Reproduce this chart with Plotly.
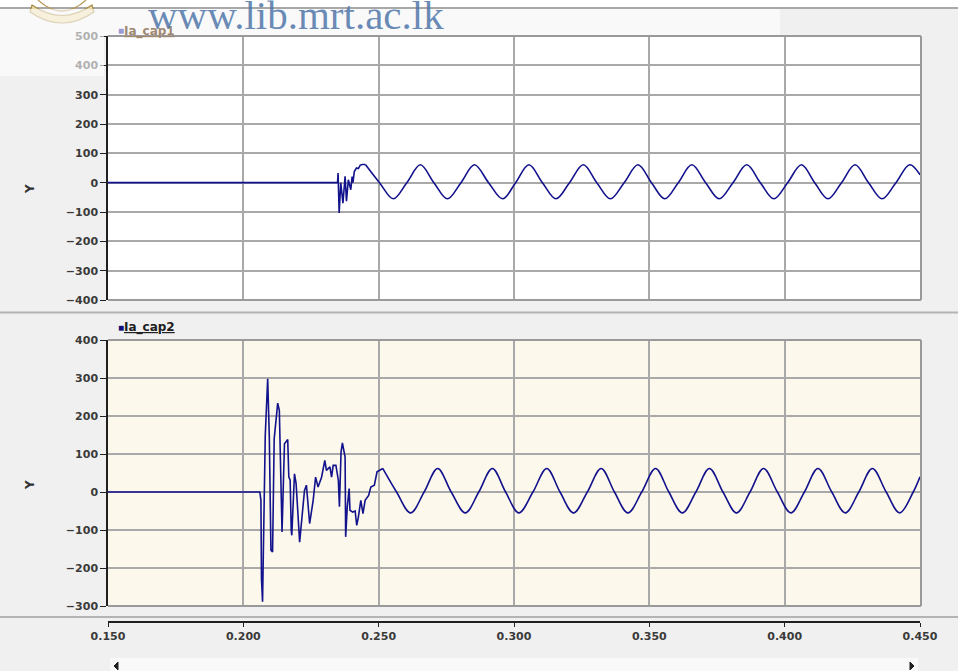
import plotly.graph_objects as go

W, H = 958, 671

# ---------------- data ----------------
x_range = [0.150, 0.450]
x_ticks = [0.150, 0.200, 0.250, 0.300, 0.350, 0.400, 0.450]
y1_ticks = [-400, -300, -200, -100, 0, 100, 200, 300, 400, 500]
y2_ticks = [-300, -200, -100, 0, 100, 200, 300, 400]

# Ia_cap1 : transient part
cap1_trans_t = [0.1500, 0.2348, 0.2350, 0.2354, 0.2360, 0.2368, 0.2376, 0.2381, 0.2388,
                0.2397, 0.2402, 0.2405, 0.2410, 0.2418, 0.2425, 0.2432, 0.2440, 0.2451]
cap1_trans_v = [0, 0, 33, -103, 0, -70, 22, -63, 10,
                -24, 21, 0, 38, 50, 48, 60, 62, 62]
# Ia_cap1 : steady part (peaks, zero crossings, troughs)
cap1_t = [0.2451, 0.2503, 0.2554, 0.2604, 0.2654, 0.2704, 0.2754, 0.2804, 0.2854, 0.2906,
          0.2958, 0.3006, 0.3055, 0.3105, 0.3155, 0.3205, 0.3256, 0.3306, 0.3356, 0.3407,
          0.3458, 0.3508, 0.3557, 0.3607, 0.3657, 0.3708, 0.3758, 0.3809, 0.3860, 0.3910,
          0.3960, 0.4011, 0.4062, 0.4111, 0.4160, 0.4210, 0.4260, 0.4310, 0.4360, 0.4411,
          0.4462, 0.4500]
cap1_v = [62, 0, -55, 0, 61, 0, -55, 0, 61, 0,
          -55, 0, 61, 0, -55, 0, 61, 0, -55, 0,
          61, 0, -55, 0, 61, 0, -55, 0, 61, 0,
          -55, 0, 61, 0, -55, 0, 61, 0, -55, 0,
          61, 27]

# Ia_cap2 : transient part
cap2_trans_t = [0.1500, 0.2061, 0.2065, 0.2067, 0.2071, 0.2081, 0.2090, 0.2093, 0.2096,
                0.2102, 0.2108, 0.2114, 0.2124, 0.2127, 0.2133, 0.2139, 0.2143, 0.2152,
                0.2164, 0.2168, 0.2173, 0.2177, 0.2179, 0.2189, 0.2195, 0.2208, 0.2226,
                0.2233, 0.2245, 0.2258, 0.2267, 0.2276, 0.2289, 0.2301, 0.2307, 0.2320,
                0.2326, 0.2332, 0.2342, 0.2351, 0.2355, 0.2361, 0.2366, 0.2376, 0.2378,
                0.2384, 0.2391, 0.2394, 0.2404, 0.2413, 0.2419, 0.2425, 0.2434, 0.2442,
                0.2450, 0.2463, 0.2471, 0.2484, 0.2494, 0.2515]
cap2_trans_v = [0, 0, -22, -228, -289, 149, 298, 232, 145,
                -153, -158, 140, 206, 234, 215, -39, -105, 127,
                138, 40, 31, -100, -114, 48, 22, -132, 4,
                18, -83, -22, 39, 13, 39, 83, 57, 66,
                39, 70, 70, 31, -39, 105, 129, 92, -118,
                -39, 9, -48, -53, -50, -88, -66, -22, -57,
                -22, -9, 13, 18, 53, 62]
# Ia_cap2 : steady part
cap2_t = [0.2515, 0.2566, 0.2618, 0.2668, 0.2718, 0.2768, 0.2820, 0.2870, 0.2920, 0.2969,
          0.3018, 0.3070, 0.3121, 0.3170, 0.3220, 0.3271, 0.3322, 0.3371, 0.3421, 0.3472,
          0.3523, 0.3572, 0.3622, 0.3672, 0.3722, 0.3772, 0.3822, 0.3872, 0.3922, 0.3973,
          0.4023, 0.4073, 0.4123, 0.4174, 0.4224, 0.4274, 0.4324, 0.4375, 0.4425, 0.4475,
          0.4500]
cap2_v = [62, 0, -55, 0, 62, 0, -55, 0, 62, 0,
          -55, 0, 62, 0, -55, 0, 62, 0, -55, 0,
          62, 0, -55, 0, 62, 0, -55, 0, 62, 0,
          -55, 0, 62, 0, -55, 0, 62, 0, -55, 0,
          40]

LINE = "#12128C"

# ---------------- helpers (pixel -> paper) ----------------
def px(x):
    return x / W

def py(y):
    return 1 - y / H

X0, X1 = 108, 920
TOP_T, TOP_B = 36, 300
BOT_T, BOT_B = 340, 606

fig = go.Figure()
fig.add_trace(go.Scatter(x=cap1_trans_t, y=cap1_trans_v, mode="lines",
                         line=dict(color=LINE, width=1.6), xaxis="x", yaxis="y", showlegend=False))
fig.add_trace(go.Scatter(x=cap1_t, y=cap1_v, mode="lines",
                         line=dict(color=LINE, width=1.6, shape="spline", smoothing=1.0),
                         xaxis="x", yaxis="y", showlegend=False))
fig.add_trace(go.Scatter(x=cap2_trans_t, y=cap2_trans_v, mode="lines",
                         line=dict(color=LINE, width=1.6), xaxis="x2", yaxis="y2", showlegend=False))
fig.add_trace(go.Scatter(x=cap2_t, y=cap2_v, mode="lines",
                         line=dict(color=LINE, width=1.6, shape="spline", smoothing=1.0),
                         xaxis="x2", yaxis="y2", showlegend=False))

tickfont = dict(family="DejaVu Sans", size=11, color="#3a3a3a", weight="bold")
grid = "#A9A9A9"

xcommon = dict(range=x_range, tickvals=x_ticks, showgrid=True, gridcolor=grid, gridwidth=1.5,
               zeroline=False, domain=[px(X0), px(X1)], automargin=False)
fig.update_layout(
    width=W, height=H,
    margin=dict(l=0, r=0, t=0, b=0, pad=0),
    paper_bgcolor="#F0F0F0",
    plot_bgcolor="#FFFFFF",
    showlegend=False,
    xaxis=dict(**xcommon, anchor="y", showticklabels=False, ticks="", showline=False),
    yaxis=dict(domain=[py(TOP_B), py(TOP_T)], range=[-400, 500], tickvals=y1_ticks,
               showgrid=True, gridcolor=grid, gridwidth=1.5, zeroline=False,
               showline=True, linecolor="#202020", linewidth=1.5,
               ticks="outside", ticklen=6, tickcolor="#202020", tickwidth=1.2,
               tickfont=tickfont, anchor="x", automargin=False),
    xaxis2=dict(**xcommon, anchor="free", position=py(622),
                showline=True, linecolor="#202020", linewidth=1.5,
                ticks="outside", ticklen=4, tickcolor="#202020", tickwidth=1.2,
                tickfont=tickfont, tickformat=".3f"),
    yaxis2=dict(domain=[py(BOT_B), py(BOT_T)], range=[-300, 400], tickvals=y2_ticks,
                showgrid=True, gridcolor=grid, gridwidth=1.5, zeroline=False,
                showline=True, linecolor="#202020", linewidth=1.5,
                ticks="outside", ticklen=6, tickcolor="#202020", tickwidth=1.2,
                tickfont=tickfont, anchor="x2", automargin=False),
)

shapes = []
# white strip at the very top of the scan
shapes.append(dict(type="rect", xref="paper", yref="paper", layer="below",
                   x0=0, x1=1, y0=py(8), y1=1, fillcolor="#FFFFFF", line=dict(width=0)))
# bottom panel background (cream)
shapes.append(dict(type="rect", xref="paper", yref="paper", layer="below",
                   x0=px(X0), x1=px(X1), y0=py(BOT_B), y1=py(BOT_T),
                   fillcolor="#FDF8EC", line=dict(width=0)))

def hline(y, x0, x1, color, w):
    shapes.append(dict(type="line", xref="paper", yref="paper",
                       x0=px(x0), x1=px(x1), y0=py(y), y1=py(y), line=dict(color=color, width=w)))

def vline(x, y0, y1, color, w):
    shapes.append(dict(type="line", xref="paper", yref="paper",
                       x0=px(x), x1=px(x), y0=py(y0), y1=py(y1), line=dict(color=color, width=w)))

# frames of the plot areas (top, right, bottom)
for (t, b) in [(TOP_T, TOP_B), (BOT_T, BOT_B)]:
    hline(t, X0, X1 + 1, "#9A9A9A", 2)
    hline(b, X0, X1 + 1, "#9A9A9A", 2)
    vline(X1 + 1, t, b, "#9A9A9A", 2)

# separators
hline(8, 0, W, "#A8A8A8", 2)
hline(312.5, 0, W, "#B4B4B4", 2)
hline(617, 0, W, "#B4B4B4", 2)

# scroll bar at the bottom
shapes.append(dict(type="rect", xref="paper", yref="paper",
                   x0=px(110), x1=px(918), y0=py(671), y1=py(658),
                   fillcolor="#F9F9F9", line=dict(width=0)))
shapes.append(dict(type="path", xref="paper", yref="paper",
                   path=f"M {px(118)} {py(662)} L {px(114)} {py(666)} L {px(118)} {py(670)} Z",
                   fillcolor="#202020", line=dict(color="#202020", width=1)))
shapes.append(dict(type="path", xref="paper", yref="paper",
                   path=f"M {px(910)} {py(662)} L {px(914)} {py(666)} L {px(910)} {py(670)} Z",
                   fillcolor="#202020", line=dict(color="#202020", width=1)))

# emblem (partial, top-left)
shapes.append(dict(type="path", xref="paper", yref="paper",
                   path=(f"M {px(30)} {py(12)} Q {px(62)} {py(34)} {px(94)} {py(12)} "
                         f"L {px(92)} {py(5)} Q {px(62)} {py(26)} {px(32)} {py(5)} Z"),
                   fillcolor="#E8D9A8", line=dict(color="#A88C48", width=1.2)))
shapes.append(dict(type="path", xref="paper", yref="paper",
                   path=(f"M {px(38)} {py(0)} Q {px(62)} {py(22)} {px(86)} {py(0)}"),
                   line=dict(color="#B89A58", width=1.2)))

# faded (scan overlay) band at the top
shapes.append(dict(type="rect", xref="paper", yref="paper",
                   x0=0, x1=px(780), y0=py(35), y1=py(9),
                   fillcolor="rgba(255,255,255,0.6)", line=dict(width=0)))
shapes.append(dict(type="rect", xref="paper", yref="paper",
                   x0=0, x1=px(104), y0=py(76), y1=py(35),
                   fillcolor="rgba(255,255,255,0.6)", line=dict(width=0)))

annotations = []
# y axis titles
for yc in [(TOP_T + TOP_B) / 2 + 14, (BOT_T + BOT_B) / 2 + 19]:
    annotations.append(dict(text="Y", xref="paper", yref="paper", x=px(21), y=py(yc),
                            textangle=-90, showarrow=False,
                            font=dict(family="DejaVu Sans", size=12, color="#303030", weight="bold")))
# legends
annotations.append(dict(text="■", xref="paper", yref="paper", x=px(116), y=py(21),
                        showarrow=False, font=dict(size=10, color="#9898D4")))
annotations.append(dict(text="<u>Ia_cap1</u>", xref="paper", yref="paper", x=px(122), y=py(22),
                        xanchor="left", showarrow=False,
                        font=dict(family="DejaVu Sans", size=12, color="#A08870", weight="bold")))
annotations.append(dict(text="■", xref="paper", yref="paper", x=px(116), y=py(327),
                        showarrow=False, font=dict(size=10, color="#10107A")))
annotations.append(dict(text="<u>Ia_cap2</u>", xref="paper", yref="paper", x=px(122), y=py(328),
                        xanchor="left", showarrow=False,
                        font=dict(family="DejaVu Sans", size=12, color="#202020", weight="bold")))
# watermark
annotations.append(dict(text="www.lib.mrt.ac.lk", xref="paper", yref="paper",
                        x=px(146), y=py(15), xanchor="left", yanchor="middle", showarrow=False,
                        font=dict(family="Liberation Serif", size=41, color="rgba(80,118,170,0.85)")))

fig.update_layout(shapes=shapes, annotations=annotations)
fig.write_html("out.html", config=dict(displayModeBar=False),
               post_script="document.body.style.margin='0px';")
